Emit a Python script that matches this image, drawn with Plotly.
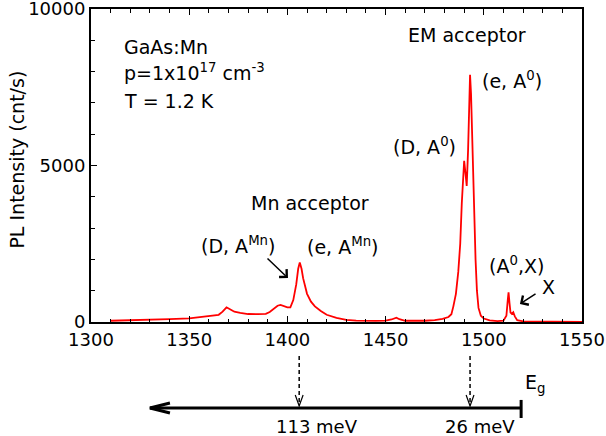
import plotly.graph_objects as go

# ---- data ----
energy_meV = [1310, 1320, 1330, 1340, 1350, 1355, 1360, 1365, 1367, 1369, 1371, 1373, 1376, 1380,
              1385, 1389, 1391, 1393, 1395, 1396.5, 1398, 1400, 1401.5, 1403, 1404.5, 1405.5, 1406.3,
              1407.2, 1408, 1409, 1410, 1412, 1414, 1417, 1420, 1425, 1430, 1435, 1440, 1445, 1450,
              1453, 1455.5, 1457, 1460, 1465, 1470, 1475, 1479, 1482, 1483.5, 1484.5, 1485.8, 1487,
              1488, 1488.8, 1489.5, 1490, 1490.6, 1491.3, 1492, 1492.6, 1493, 1493.5, 1494.2, 1495,
              1495.8, 1496.5, 1497.3, 1498.5, 1500, 1503, 1507, 1510, 1511.5, 1512.2, 1512.6, 1513.1,
              1513.6, 1514.3, 1515, 1515.8, 1517, 1520, 1530, 1540, 1550]
intensity_cps = [40, 50, 70, 90, 115, 150, 195, 230, 330, 470, 400, 330, 290, 255,
                 250, 260, 320, 420, 520, 545, 510, 470, 470, 700, 1200, 1700, 1900,
                 1700, 1400, 1100, 900, 650, 500, 350, 230, 130, 70, 45, 35, 35, 45,
                 80, 140, 90, 40, 35, 40, 60, 100, 160, 250, 500, 900, 1600,
                 2500, 3800, 4900, 5150, 4800, 4350, 5500, 7400, 7900, 7300, 5500, 3500,
                 2000, 1000, 450, 200, 110, 50, 30, 40, 200, 700, 950, 600,
                 300, 260, 310, 180, 60, 20, 10, 5, 5]

x_tickvals = [1300, 1350, 1400, 1450, 1500, 1550]
y_tickvals = [0, 5000, 10000]
y_ticktext = ["0", "5000", "10000"]

Eg = 1519            # band gap (meV)
mn_binding = 113     # Mn acceptor binding energy (meV)
em_binding = 26      # EM acceptor binding energy (meV)

FONT = "DejaVu Sans"
BLACK = "black"

fig = go.Figure()
fig.add_trace(go.Scatter(x=energy_meV, y=intensity_cps, mode="lines",
                         line=dict(color="#ff0000", width=1.8), showlegend=False))

fig.update_layout(
    width=606, height=436,
    margin=dict(l=91, r=24, t=9, b=114, autoexpand=False),
    paper_bgcolor="white", plot_bgcolor="white",
    font=dict(family=FONT, size=18, color=BLACK),
    xaxis=dict(range=[1300, 1550], tickvals=x_tickvals, ticks="inside", ticklen=6,
               tickwidth=1.2, tickcolor=BLACK, automargin=False, ticklabeloverflow="allow",
               minor=dict(dtick=10, ticks="inside", ticklen=3.5, tickcolor=BLACK, tickwidth=1),
               showline=True, linecolor=BLACK, linewidth=2, mirror="allticks",
               showgrid=False, zeroline=False, tickfont=dict(size=18)),
    yaxis=dict(range=[0, 10000], tickvals=y_tickvals, ticktext=y_ticktext, ticks="inside", ticklen=6,
               tickwidth=1.2, tickcolor=BLACK, automargin=False, ticklabeloverflow="allow",
               minor=dict(dtick=1000, ticks="inside", ticklen=3.5, tickcolor=BLACK, tickwidth=1),
               showline=True, linecolor=BLACK, linewidth=2, mirror=True,
               showgrid=False, zeroline=False, tickfont=dict(size=18)),
)

anns = []
def txt(text, x, y, xanchor="center", yanchor="middle", size=19, xref="x", yref="y"):
    anns.append(dict(text=text, x=x, y=y, xref=xref, yref=yref, showarrow=False,
                     xanchor=xanchor, yanchor=yanchor, font=dict(size=size, family=FONT)))

# y-axis title
txt("PL Intensity (cnt/s)", -0.15, 0.52, xref="paper", yref="paper", size=19)
anns[-1]["textangle"] = -90

txt("GaAs:Mn", 1315.8, 8786, xanchor="left")
txt("p=1x10<sup>17</sup> cm<sup>-3</sup>", 1315.8, 8000, xanchor="left")
txt("T = 1.2 K", 1315.8, 7060, xanchor="left")
txt("EM acceptor", 1491.4, 9170)
txt("(e, A<sup>0</sup>)", 1514.4, 7740)
txt("(D, A<sup>0</sup>)", 1470, 5620)
txt("Mn acceptor", 1411.5, 3802)
txt("(D, A<sup>Mn</sup>)", 1374.8, 2460)
txt("(e, A<sup>Mn</sup>)", 1428.3, 2430)
txt("(A<sup>0</sup>,X)", 1516.4, 1830)
txt("X", 1532.7, 1118)

# pointer arrows
for head, tail in [((1400.3, 1406), (1389.1, 2077)), ((1518.4, 575), (1527.1, 927))]:
    anns.append(dict(x=head[0], y=head[1], ax=tail[0], ay=tail[1], xref="x", yref="y",
                     axref="x", ayref="y", showarrow=True, text="", arrowhead=4,
                     arrowsize=1.4, arrowwidth=1.5, arrowcolor=BLACK))

# energy scale below the axis
y_line = -0.2748
txt("E<sub>g</sub>", Eg + 1.0, -0.195, xanchor="left", yref="paper")
txt(f"{mn_binding} meV", Eg - mn_binding + 9, -0.333, yref="paper", size=18)
txt(f"{em_binding} meV", Eg - em_binding + 5, -0.333, yref="paper", size=18)

shapes = []
# main horizontal arrow from Eg toward lower energy
x_end = 1330
shapes.append(dict(type="line", xref="x", yref="paper", x0=Eg, x1=x_end, y0=y_line, y1=y_line,
                   line=dict(color=BLACK, width=3)))
shapes.append(dict(type="path", xref="x", yref="paper",
                   path=f"M {x_end + 10.2},{y_line + 0.016} L {x_end},{y_line} L {x_end + 10.2},{y_line - 0.016}",
                   line=dict(color=BLACK, width=3)))
# end bar at Eg
shapes.append(dict(type="line", xref="x", yref="paper", x0=Eg, x1=Eg, y0=-0.249, y1=-0.3067,
                   line=dict(color=BLACK, width=3)))
# dashed arrows from the peaks
for xb in [Eg - mn_binding, Eg - em_binding]:
    shapes.append(dict(type="line", xref="x", yref="paper", x0=xb, x1=xb, y0=-0.1086, y1=-0.266,
                       line=dict(color=BLACK, width=1.5, dash="4px,3px")))
    shapes.append(dict(type="path", xref="x", yref="paper",
                       path=f"M {xb - 2.0},{-0.233} L {xb},{-0.268} L {xb + 2.0},{-0.233}",
                       line=dict(color=BLACK, width=1.2)))

fig.update_layout(annotations=anns, shapes=shapes)
fig.write_html("out.html", config={"displayModeBar": False},
               post_script="document.body.style.margin='0';document.body.style.overflow='hidden';")
